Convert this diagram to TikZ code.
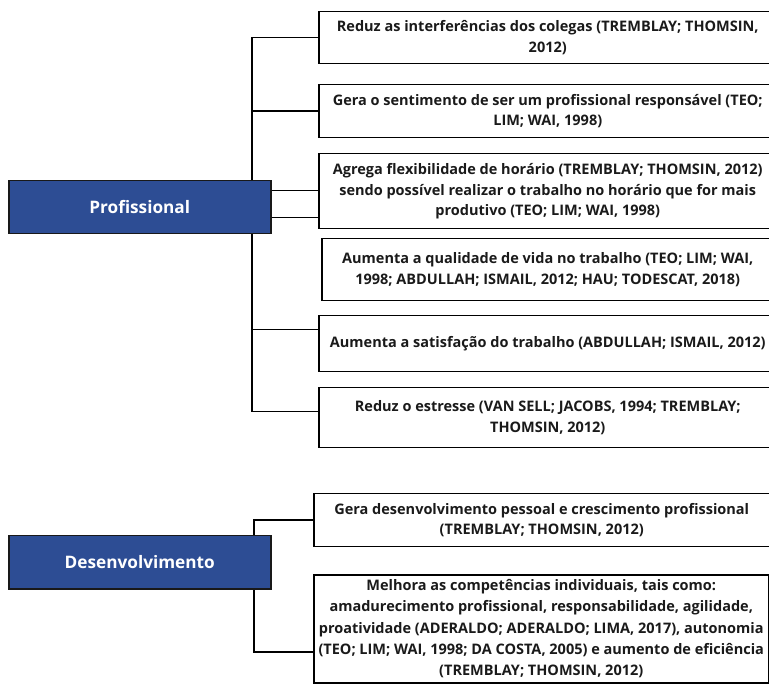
\documentclass[tikz,border=0pt]{standalone}
\usepackage{fontspec}
\setmainfont{Open Sans}
\definecolor{topicblue}{RGB}{45,77,148}
\definecolor{inkgray}{RGB}{26,26,26}
\begin{document}
\begin{tikzpicture}[x=1pt,y=-1pt,
  item/.style={draw=black, line width=1.5pt, anchor=north west, align=center,
    font=\bfseries\fontsize{14.5}{20.5}\selectfont, inner sep=0pt, text=inkgray},
  topic/.style={draw=black!90, line width=1.5pt, fill=topicblue, anchor=north west,
    text=white, font=\bfseries\fontsize{17.2}{20}\selectfont, inner sep=0pt,
    minimum width=262pt, minimum height=53pt},
  link/.style={line width=1.5pt, black}]
\useasboundingbox (0,0) rectangle (769,684);
\clip (0,0) rectangle (769,684);

% spine positions of the two brackets
\coordinate (sp) at (252,0);
\coordinate (dx) at (254,0);

\node[item, minimum width=458pt, minimum height=52pt] (b1) at (318,11)
  {Reduz as interferências dos colegas (TREMBLAY; THOMSIN,\\2012)};
\node[item, minimum width=458pt, minimum height=53pt] (b2) at (318,84)
  {Gera o sentimento de ser um profissional responsável (TEO;\\LIM; WAI, 1998)};
\node[item, minimum width=458pt, minimum height=75pt] (b3) at (318,153)
  {Agrega flexibilidade de horário (TREMBLAY; THOMSIN, 2012)\\sendo possível realizar o trabalho no horário que for mais\\produtivo (TEO; LIM; WAI, 1998)};
\node[item, minimum width=452pt, minimum height=62pt] (b4) at (321,238)
  {Aumenta a qualidade de vida no trabalho (TEO; LIM; WAI,\\1998; ABDULLAH; ISMAIL, 2012; HAU; TODESCAT, 2018)};
\node[item, minimum width=458pt, minimum height=56pt] (b5) at (318,315)
  {Aumenta a satisfação do trabalho (ABDULLAH; ISMAIL, 2012)};
\node[item, minimum width=458pt, minimum height=60pt] (b6) at (318,387)
  {Reduz o estresse (VAN SELL; JACOBS, 1994; TREMBLAY;\\THOMSIN, 2012)};

\node[item, minimum width=456pt, minimum height=53pt] (b7) at (313,493)
  {Gera desenvolvimento pessoal e crescimento profissional\\(TREMBLAY; THOMSIN, 2012)};
\node[item, minimum width=455pt, minimum height=108pt,
      font=\bfseries\fontsize{14.5}{21.2}\selectfont] (b8) at (313,574)
  {Melhora as competências individuais, tais como:\\amadurecimento profissional, responsabilidade, agilidade,\\proatividade (ADERALDO; ADERALDO; LIMA, 2017), autonomia\\(TEO; LIM; WAI, 1998; DA COSTA, 2005) e aumento de eficiência\\(TREMBLAY; THOMSIN, 2012)};

% Profissional bracket: spine segments run behind the topic box
\draw[link] (b1.west) -| (sp |- 0,200);
\draw[link] (b2.west) -- (b2.west -| sp);
\draw[link] (sp |- 0,220) |- ([yshift=6pt]b6.west);
\draw[link] ([yshift=14pt]b5.west) -- ([yshift=14pt]b5.west -| sp);

% Desenvolvimento bracket
\draw[link] (dx |- 0,560) |- (b7.west);
\draw[link] (dx |- 0,560) |- ([yshift=-23pt]b8.west);

\node[topic] (prof) at (8,180) {Profissional};
\node[topic] (dev) at (8,535) {Desenvolvimento};

% the two links from the topic box to the schedule item
\draw[link] ([yshift=16.5pt]prof.east) -- ([yshift=16.5pt]prof.east -| b3.west);
\draw[link] ([yshift=-10.5pt]prof.east) -- ([yshift=-10.5pt]prof.east -| b3.west);
\end{tikzpicture}
\end{document}
